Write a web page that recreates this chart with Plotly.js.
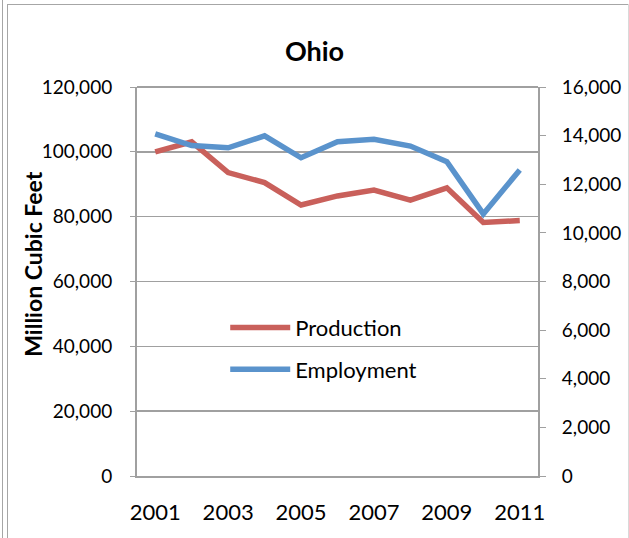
<!DOCTYPE html>
<html>
<head>
<meta charset="utf-8">
<script src="https://cdn.plot.ly/plotly-3.0.1.min.js"></script>
<style>
  html, body { margin: 0; padding: 0; background: #fff; }
  #frame { position: absolute; left: 0; top: 0; width: 629px; height: 538px; }
  #l1 { position: absolute; left: 2px; top: 0; width: 1px; height: 538px; background: #a6a6a6; }
  #l2 { position: absolute; left: 7px; top: 4px; width: 1px; height: 534px; background: #a6a6a6; }
  #t1 { position: absolute; left: 7px; top: 4px; width: 622px; height: 1px; background: #a6a6a6; }
  #r1 { position: absolute; left: 628px; top: 4px; width: 1px; height: 534px; background: #d9d9d9; }
  #chart { position: absolute; left: 0; top: 0; width: 629px; height: 538px; }
</style>
</head>
<body>
<div id="frame"><div id="l1"></div><div id="l2"></div><div id="t1"></div><div id="r1"></div></div>
<div id="chart"></div>
<script>
const years = ["2001","2002","2003","2004","2005","2006","2007","2008","2009","2010","2011"];
const production = [100000, 103100, 93600, 90500, 83600, 86400, 88200, 85100, 88900, 78200, 78800];
const employment = [14070, 13590, 13500, 13990, 13090, 13750, 13850, 13570, 12930, 10780, 12590];
const xTickVals = ["2001","2003","2005","2007","2009","2011"];
const leftTicks = [0, 20000, 40000, 60000, 80000, 100000, 120000];
const rightTicks = [0, 2000, 4000, 6000, 8000, 10000, 12000, 14000, 16000];

const FONT = "Lato, 'Open Sans', sans-serif";
const AX = "#a0a0a0";

const traces = [
  { x: years, y: production, name: "Production", type: "scatter", mode: "lines",
    line: { color: "#C9605B", width: 5.5 }, yaxis: "y", legendgroup: "a" },
  { x: years, y: employment, name: "Employment", type: "scatter", mode: "lines",
    line: { color: "#5A93CC", width: 5.5 }, yaxis: "y2", legendgroup: "b" }
];

const layout = {
  width: 629, height: 538,
  margin: { l: 137, r: 91, t: 87, b: 62 },
  paper_bgcolor: "rgba(0,0,0,0)", plot_bgcolor: "#fff",
  font: { family: FONT, color: "#000", size: 19 },
  title: { text: "<b>Ohio</b>", font: { family: FONT, size: 27, color: "#000" },
           x: 0.5, xanchor: "center", y: 0.905, yanchor: "middle" },
  showlegend: true,
  legend: { x: 0.22, y: 0.435, xanchor: "left", yanchor: "top", bgcolor: "rgba(0,0,0,0)",
            font: { family: FONT, size: 22, color: "#000" }, tracegroupgap: 10, itemwidth: 60 },
  xaxis: { type: "category", range: [-0.5, 10.5], tickmode: "array", tickvals: xTickVals, ticktext: xTickVals,
           showgrid: false, showline: true, linecolor: AX, linewidth: 2, ticks: "", zeroline: false,
           tickfont: { family: FONT, size: 22, color: "#000" }, ticklabelstandoff: 16, mirror: false },
  yaxis: { range: [0, 120000], tickmode: "array", tickvals: leftTicks, tickformat: ",d",
           showgrid: true, gridcolor: AX, gridwidth: 1.5, showline: true, linecolor: AX, linewidth: 2,
           ticks: "outside", ticklen: 5, tickcolor: AX, zeroline: false,
           tickfont: { family: FONT, size: 19, color: "#000" }, ticklabelstandoff: 14 },
  yaxis2: { range: [0, 16000], tickmode: "array", tickvals: rightTicks, tickformat: ",d",
            overlaying: "y", side: "right", showgrid: false, showline: true, linecolor: AX, linewidth: 2,
            ticks: "outside", ticklen: 6, tickcolor: AX, zeroline: false,
            tickfont: { family: FONT, size: 19, color: "#000" }, ticklabelstandoff: 12 },
  annotations: [
    { text: "<b>Million Cubic Feet</b>", textangle: -90, xref: "paper", yref: "paper",
      x: -0.26, y: 0.545, xanchor: "center", yanchor: "middle", showarrow: false,
      font: { family: FONT, size: 23, color: "#000" } }
  ],
  shapes: [
    { type: "line", xref: "paper", yref: "paper", x0: 0, x1: 1, y0: 1, y1: 1, line: { color: AX, width: 2 } }
  ]
};

Plotly.newPlot("chart", traces, layout, { displayModeBar: false, staticPlot: true });
</script>
</body>
</html>
